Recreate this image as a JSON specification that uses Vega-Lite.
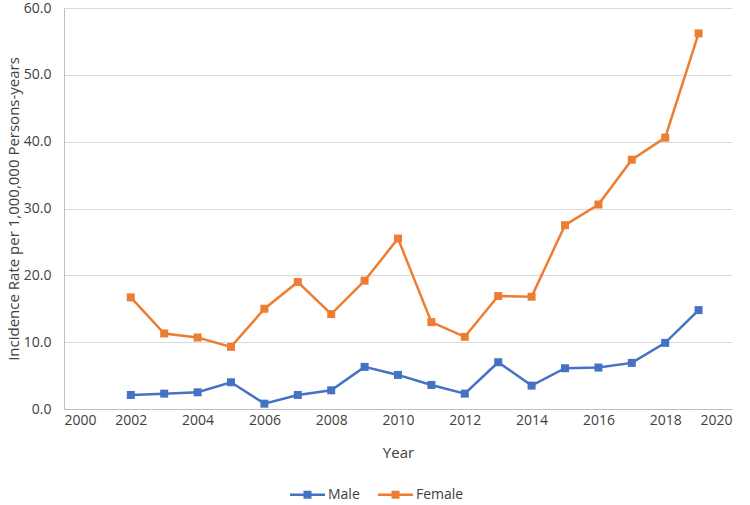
{
  "$schema": "https://vega.github.io/schema/vega-lite/v6.json",
  "autosize": "none",
  "width": 668,
  "height": 401,
  "padding": {"left": 64, "top": 8, "right": 18, "bottom": 96},
  "background": "white",
  "config": {
    "font": "Open Sans",
    "view": {"stroke": null},
    "axis": {"labelColor": "#404040", "titleColor": "#404040", "labelFontSize": 14, "titleFontSize": 15, "titleFontWeight": "normal", "domainColor": "#bfbfbf", "gridColor": "#d9d9d9", "ticks": false}
  },
  "data": {"values": [
    {"Year": 2002, "Sex": "Male", "Rate": 2.1},
    {"Year": 2003, "Sex": "Male", "Rate": 2.3},
    {"Year": 2004, "Sex": "Male", "Rate": 2.5},
    {"Year": 2005, "Sex": "Male", "Rate": 4.0},
    {"Year": 2006, "Sex": "Male", "Rate": 0.8},
    {"Year": 2007, "Sex": "Male", "Rate": 2.1},
    {"Year": 2008, "Sex": "Male", "Rate": 2.8},
    {"Year": 2009, "Sex": "Male", "Rate": 6.3},
    {"Year": 2010, "Sex": "Male", "Rate": 5.1},
    {"Year": 2011, "Sex": "Male", "Rate": 3.6},
    {"Year": 2012, "Sex": "Male", "Rate": 2.3},
    {"Year": 2013, "Sex": "Male", "Rate": 7.0},
    {"Year": 2014, "Sex": "Male", "Rate": 3.5},
    {"Year": 2015, "Sex": "Male", "Rate": 6.1},
    {"Year": 2016, "Sex": "Male", "Rate": 6.2},
    {"Year": 2017, "Sex": "Male", "Rate": 6.9},
    {"Year": 2018, "Sex": "Male", "Rate": 9.9},
    {"Year": 2019, "Sex": "Male", "Rate": 14.8},
    {"Year": 2002, "Sex": "Female", "Rate": 16.7},
    {"Year": 2003, "Sex": "Female", "Rate": 11.3},
    {"Year": 2004, "Sex": "Female", "Rate": 10.7},
    {"Year": 2005, "Sex": "Female", "Rate": 9.3},
    {"Year": 2006, "Sex": "Female", "Rate": 15.0},
    {"Year": 2007, "Sex": "Female", "Rate": 19.0},
    {"Year": 2008, "Sex": "Female", "Rate": 14.2},
    {"Year": 2009, "Sex": "Female", "Rate": 19.2},
    {"Year": 2010, "Sex": "Female", "Rate": 25.5},
    {"Year": 2011, "Sex": "Female", "Rate": 13.0},
    {"Year": 2012, "Sex": "Female", "Rate": 10.8},
    {"Year": 2013, "Sex": "Female", "Rate": 16.9},
    {"Year": 2014, "Sex": "Female", "Rate": 16.8},
    {"Year": 2015, "Sex": "Female", "Rate": 27.5},
    {"Year": 2016, "Sex": "Female", "Rate": 30.6},
    {"Year": 2017, "Sex": "Female", "Rate": 37.3},
    {"Year": 2018, "Sex": "Female", "Rate": 40.6},
    {"Year": 2019, "Sex": "Female", "Rate": 56.2}
  ]},
  "encoding": {
    "x": {"field": "Year", "type": "quantitative", "scale": {"domain": [2000, 2020], "nice": false},
      "axis": {"values": [2000, 2002, 2004, 2006, 2008, 2010, 2012, 2014, 2016, 2018, 2020], "format": "d", "grid": false, "labelPadding": 4, "titlePadding": 18, "title": "Year"}},
    "y": {"field": "Rate", "type": "quantitative", "scale": {"domain": [0, 60], "nice": false},
      "axis": {"values": [0, 10, 20, 30, 40, 50, 60], "format": ".1f", "labelPadding": 13, "titlePadding": 2, "title": "Incidence Rate per 1,000,000 Persons-years"}},
    "color": {"field": "Sex", "type": "nominal", "sort": ["Male", "Female"],
      "scale": {"domain": ["Male", "Female"], "range": ["#4472C4", "#ED7D31"]},
      "legend": {"orient": "none", "legendX": 226, "legendY": 469, "direction": "horizontal", "title": null,
        "symbolType": "M-1,-0.07H1V0.07H-1Z M-0.23,-0.23H0.23V0.23H-0.23Z", "symbolSize": 1225, "symbolStrokeWidth": 0,
        "labelFontSize": 14, "labelColor": "#404040", "columnPadding": 18, "labelOffset": 3}}
  },
  "layer": [
    {"mark": {"type": "line", "strokeWidth": 2.5}},
    {"mark": {"type": "point", "shape": "square", "filled": true, "size": 64, "opacity": 1}}
  ]
}
